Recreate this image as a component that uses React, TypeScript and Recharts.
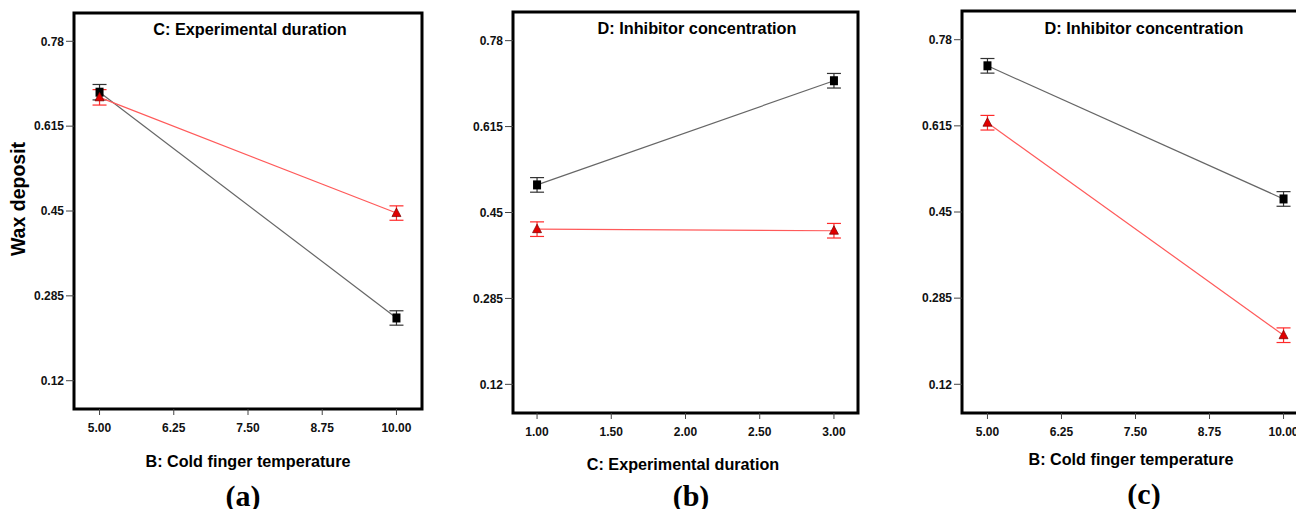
import { ErrorBar, Line, LineChart, ReferenceArea, XAxis, YAxis } from 'recharts'

// Interaction plots, Wax deposit response. Black = low level, red = high level.
const yTicks = [0.12, 0.285, 0.45, 0.615, 0.78]
const yDomain: [number, number] = [0.065, 0.835]

// (a) B: Cold finger temperature x C: Experimental duration
const aX = [5, 10]
const aBlack = [0.681, 0.242]
const aBlackErr = [0.015, 0.014]
const aRed = [0.671, 0.446]
const aRedErr = [0.015, 0.014]
const aTicks = [5, 6.25, 7.5, 8.75, 10]

// (b) C: Experimental duration x D: Inhibitor concentration
const bX = [1, 3]
const bBlack = [0.503, 0.703]
const bBlackErr = [0.014, 0.014]
const bRed = [0.418, 0.415]
const bRedErr = [0.014, 0.014]
const bTicks = [1, 1.5, 2, 2.5, 3]

// (c) B: Cold finger temperature x D: Inhibitor concentration
const cX = [5, 10]
const cBlack = [0.73, 0.475]
const cBlackErr = [0.014, 0.014]
const cRed = [0.621, 0.214]
const cRedErr = [0.014, 0.014]
const cTicks = [5, 6.25, 7.5, 8.75, 10]

type Row = { x: number; black: number; blackErr: number; red: number; redErr: number }

function buildRows(xs: number[], black: number[], blackErr: number[], red: number[], redErr: number[]): Row[] {
  return xs.map((x, i) => ({ x, black: black[i], blackErr: blackErr[i], red: red[i], redErr: redErr[i] }))
}

const Square = (p: any) => {
  if (p.cx == null || p.cy == null) return <g key={p.key} />
  return <rect key={p.key} x={p.cx - 4} y={p.cy - 4.5} width={8} height={9} fill="#000" />
}

const Triangle = (p: any) => {
  if (p.cx == null || p.cy == null) return <g key={p.key} />
  const { cx, cy } = p
  return (
    <path
      key={p.key}
      d={`M${cx},${cy - 5} L${cx + 4.5},${cy + 3.5} L${cx - 4.5},${cy + 3.5} Z`}
      fill="#e00000"
      stroke="#7a0000"
      strokeWidth={0.7}
    />
  )
}

function Txt({ x, y, size, children, serif, rotate }: any) {
  return (
    <div
      style={{
        position: 'absolute',
        left: x,
        top: y,
        transform: `translate(-50%, -50%)${rotate ? ' rotate(-90deg)' : ''}`,
        whiteSpace: 'nowrap',
        fontSize: size,
        fontWeight: 'bold',
        lineHeight: 1,
        color: '#000',
        fontFamily: serif ? '"Liberation Serif", "Times New Roman", serif' : '"Liberation Sans", Arial, sans-serif',
      }}
    >
      {children}
    </div>
  )
}

function Panel({ left, width, margin, xDomain, xTicks, rows }: any) {
  const tick = { fontSize: 12, fontWeight: 'bold', fill: '#111', fontFamily: '"Liberation Sans", Arial, sans-serif' }
  return (
    <div style={{ position: 'absolute', left, top: 0 }}>
      <LineChart width={width} height={509} data={rows} margin={margin}>
        <XAxis
          type="number"
          dataKey="x"
          domain={xDomain}
          ticks={xTicks}
          allowDataOverflow
          height={30}
          tickSize={6}
          tickMargin={8}
          axisLine={false}
          tickLine={{ stroke: '#444' }}
          tick={tick}
          tickFormatter={(v: number) => v.toFixed(2)}
        />
        <YAxis
          type="number"
          domain={yDomain}
          ticks={yTicks}
          allowDataOverflow
          width={60}
          tickSize={8}
          tickMargin={2}
          axisLine={false}
          tickLine={{ stroke: '#444' }}
          tick={tick}
        />
        <ReferenceArea
          x1={xDomain[0]}
          x2={xDomain[1]}
          y1={yDomain[0]}
          y2={yDomain[1]}
          fill="none"
          fillOpacity={0}
          stroke="#000"
          strokeWidth={3}
          ifOverflow="visible"
        />
        <Line dataKey="black" stroke="#666" strokeWidth={1.2} dot={Square} activeDot={false} isAnimationActive={false}>
          <ErrorBar dataKey="blackErr" direction="y" width={7} stroke="#333" strokeWidth={1.2} />
        </Line>
        <Line dataKey="red" stroke="#ff5a5a" strokeWidth={1.2} dot={Triangle} activeDot={false} isAnimationActive={false}>
          <ErrorBar dataKey="redErr" direction="y" width={7} stroke="#ff2a2a" strokeWidth={1.2} />
        </Line>
      </LineChart>
    </div>
  )
}

export default function App() {
  const rowsA = buildRows(aX, aBlack, aBlackErr, aRed, aRedErr)
  const rowsB = buildRows(bX, bBlack, bBlackErr, bRed, bRedErr)
  const rowsC = buildRows(cX, cBlack, cBlackErr, cRed, cRedErr)

  return (
    <div
      style={{
        position: 'fixed',
        left: 0,
        top: 0,
        width: 1296,
        height: 509,
        overflow: 'hidden',
        background: '#fff',
        fontFamily: '"Liberation Sans", Arial, sans-serif',
      }}
    >
      <Panel
        left={0}
        width={430}
        margin={{ top: 13, right: 8, left: 14, bottom: 70 }}
        xDomain={[4.57, 10.43]}
        xTicks={aTicks}
        rows={rowsA}
      />
      <Panel
        left={440}
        width={426}
        margin={{ top: 12, right: 8, left: 13, bottom: 66 }}
        xDomain={[0.838, 3.162]}
        xTicks={bTicks}
        rows={rowsB}
      />
      <Panel
        left={890}
        width={427}
        margin={{ top: 11, right: 8, left: 12, bottom: 66 }}
        xDomain={[4.57, 10.43]}
        xTicks={cTicks}
        rows={rowsC}
      />

      <Txt x={19} y={199} size={19.5} rotate>Wax deposit</Txt>

      <Txt x={250} y={29} size={16.3}>C: Experimental duration</Txt>
      <Txt x={697} y={28} size={16.3}>D: Inhibitor concentration</Txt>
      <Txt x={1144} y={28} size={16.3}>D: Inhibitor concentration</Txt>

      <Txt x={248} y={461} size={16.2}>B: Cold finger temperature</Txt>
      <Txt x={683} y={464} size={16.2}>C: Experimental duration</Txt>
      <Txt x={1131} y={459} size={16.2}>B: Cold finger temperature</Txt>

      <Txt x={243} y={496} size={30} serif>(a)</Txt>
      <Txt x={691} y={496} size={30} serif>(b)</Txt>
      <Txt x={1144} y={494} size={30} serif>(c)</Txt>
    </div>
  )
}
